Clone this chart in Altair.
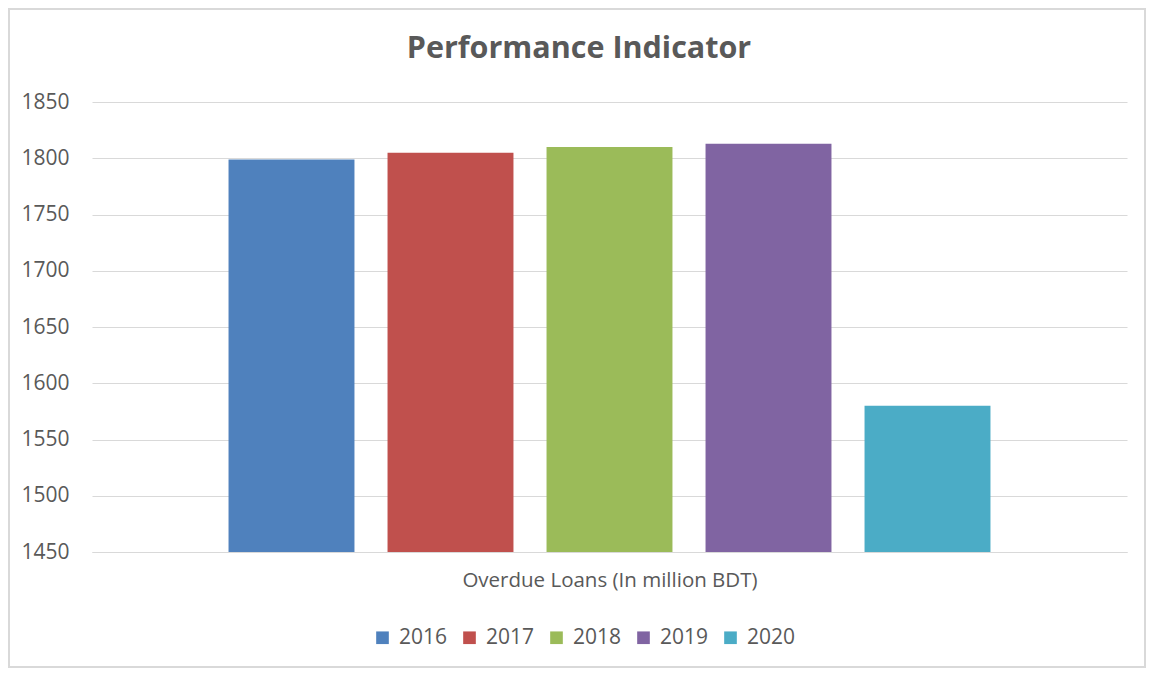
import altair as alt
import pandas as pd

years = ["2016", "2017", "2018", "2019", "2020"]
values = [1799, 1805, 1810, 1813, 1580]
colors = ["#4F81BD", "#C0504D", "#9BBB59", "#8064A2", "#4BACC6"]
category = "Overdue Loans (In million BDT)"
chart_title = "Performance Indicator"
y_ticks = [1450, 1500, 1550, 1600, 1650, 1700, 1750, 1800, 1850]

df = pd.DataFrame({"year": years, "value": values})

FONT = "Open Sans"
GRAY = "#595959"
W, H = 1035, 450

bars = alt.Chart(df).mark_bar(clip=True).encode(
    x=alt.X("year:N",
            scale=alt.Scale(paddingInner=0.208, paddingOuter=0.8587),
            axis=alt.Axis(labels=False, ticks=False, domain=True, domainColor="#D9D9D9",
                          title=category, titleFont=FONT, titleFontSize=20.5,
                          titleFontWeight="normal", titleColor=GRAY, titlePadding=18)),
    y=alt.Y("value:Q",
            scale=alt.Scale(domain=[1450, 1850], nice=False, zero=False),
            axis=alt.Axis(values=y_ticks, format="d", title=None, domain=False, ticks=False,
                          labelFont=FONT, labelFontSize=21, labelColor=GRAY,
                          labelPadding=23, gridColor="#D9D9D9", gridWidth=1)),
    color=alt.Color("year:N", scale=alt.Scale(domain=years, range=colors),
                    legend=alt.Legend(title=None, orient="none", direction="horizontal",
                                      legendX=280, legendY=525, symbolType="square",
                                      symbolSize=160, symbolStrokeWidth=0,
                                      labelFont=FONT, labelFontSize=21, labelColor=GRAY,
                                      columnPadding=11, labelOffset=6)),
)

border = alt.Chart(df).mark_rect(fill=None, stroke="#D9D9D9", strokeWidth=1.5).encode(
    x=alt.value(-83), x2=alt.value(W + 18), y=alt.value(-93), y2=alt.value(H + 115)
)

title = alt.Chart(pd.DataFrame({"t": [chart_title]})).mark_text(
    font=FONT, fontSize=30.5, fontWeight="bold", color=GRAY, align="center", baseline="middle"
).encode(text="t:N", x=alt.value(487), y=alt.value(-53))

chart = alt.layer(border, bars, title).properties(
    width=W, height=H,
    autosize=alt.AutoSizeParams(type="none"),
    padding={"left": 84, "top": 94, "right": 19, "bottom": 116},
).configure_view(stroke=None)

chart.save("out.html", embed_options={"renderer": "svg", "actions": False})
